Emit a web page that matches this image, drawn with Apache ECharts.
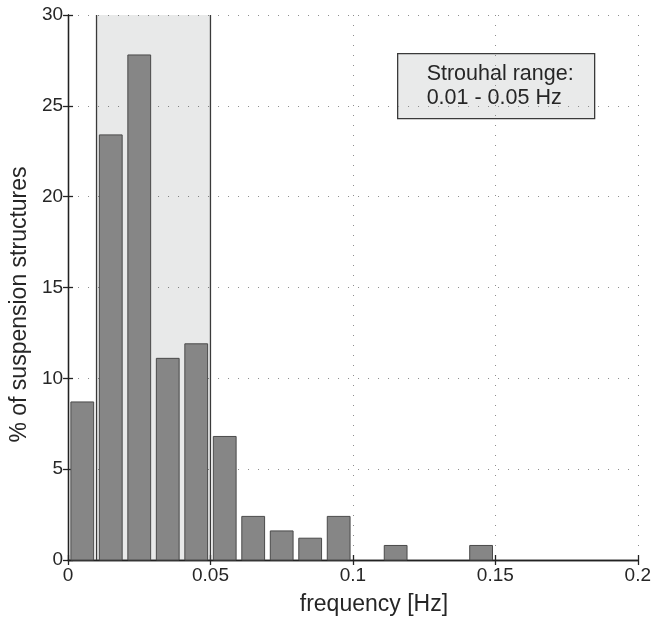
<!DOCTYPE html>
<html>
<head>
<meta charset="utf-8">
<script src="https://cdn.jsdelivr.net/npm/echarts@6/dist/echarts.min.js"></script>
<style>
html,body{margin:0;padding:0;background:#fff;}
#chart{width:654px;height:621px;}
</style>
</head>
<body>
<div id="chart"></div>
<script>
// ---- data ----
const binCenters = [0.005, 0.015, 0.025, 0.035, 0.045, 0.055, 0.065, 0.075, 0.085, 0.095, 0.105, 0.115, 0.125, 0.135, 0.145];
const percentValues = [8.7, 23.4, 27.8, 11.1, 11.9, 6.8, 2.4, 1.6, 1.2, 2.4, 0, 0.8, 0, 0, 0.8];
const binWidth = 0.01;
const strouhalRange = [0.01, 0.05];
const xTicks = [0, 0.05, 0.1, 0.15, 0.2];
const yTicks = [0, 5, 10, 15, 20, 25, 30];
const boxLines = ['Strouhal range:', '0.01 - 0.05 Hz'];
const xName = 'frequency [Hz]';
const yName = '% of suspension structures';

const FONT = '"Liberation Sans", Arial, Helvetica, sans-serif';
const chart = echarts.init(document.getElementById('chart'), null, {renderer: 'canvas'});

const barData = binCenters.map((c, i) => [c, percentValues[i]]);
const gridLine = {show: true, lineStyle: {color: '#8c8c8c', width: 1, type: [1, 9]}};
const axisLineStyle = {color: '#222', width: 1.3};

const option = {
  animation: false,
  backgroundColor: '#fff',
  grid: {left: 68, right: 11, top: 15, bottom: 59, containLabel: false},
  xAxis: [{
    type: 'value', position: 'bottom',
    min: xTicks[0], max: xTicks[xTicks.length - 1], interval: xTicks[1] - xTicks[0],
    name: xName, nameLocation: 'middle', nameGap: 33,
    nameTextStyle: {fontFamily: FONT, fontSize: 23, color: '#262626', padding: [0, 0, 0, 42]},
    axisLine: {show: true, lineStyle: axisLineStyle},
    axisTick: {show: true, inside: true, length: 5, lineStyle: axisLineStyle},
    axisLabel: {fontFamily: FONT, fontSize: 19, color: '#262626', margin: 6},
    splitLine: gridLine
  }, {
    type: 'value', position: 'top',
    min: xTicks[0], max: xTicks[xTicks.length - 1], interval: xTicks[1] - xTicks[0],
    axisLine: {show: true, lineStyle: axisLineStyle},
    axisTick: {show: true, inside: true, length: 5, lineStyle: axisLineStyle},
    axisLabel: {show: false}, splitLine: {show: false}
  }],
  yAxis: [{
    type: 'value', position: 'left',
    min: yTicks[0], max: yTicks[yTicks.length - 1], interval: yTicks[1] - yTicks[0],
    name: yName, nameLocation: 'middle', nameGap: 24, nameRotate: 90,
    nameTextStyle: {fontFamily: FONT, fontSize: 23, color: '#262626', padding: [0, 34, 0, 0]},
    axisLine: {show: true, lineStyle: axisLineStyle},
    axisTick: {show: true, inside: true, length: 5, lineStyle: axisLineStyle},
    axisLabel: {fontFamily: FONT, fontSize: 19, color: '#262626', margin: 5},
    splitLine: gridLine
  }, {
    type: 'value', position: 'right',
    min: yTicks[0], max: yTicks[yTicks.length - 1], interval: yTicks[1] - yTicks[0],
    axisLine: {show: true, lineStyle: axisLineStyle},
    axisTick: {show: true, inside: true, length: 5, lineStyle: axisLineStyle},
    axisLabel: {show: false}, splitLine: {show: false}
  }],
  series: [{
    type: 'custom', name: 'range', z: 1, silent: true,
    data: [[strouhalRange[0], strouhalRange[1]]],
    renderItem: function (params, api) {
      const yMax = yTicks[yTicks.length - 1];
      const p0 = api.coord([api.value(0), yMax]);
      const p1 = api.coord([api.value(1), 0]);
      return {
        type: 'group',
        children: [
          {type: 'rect', shape: {x: p0[0], y: p0[1], width: p1[0] - p0[0], height: p1[1] - p0[1]},
           style: {fill: 'rgba(0,10,10,0.09)'}},
          {type: 'line', shape: {x1: p0[0], y1: p0[1], x2: p0[0], y2: p1[1]}, style: {stroke: '#3a3a3a', lineWidth: 1.3}},
          {type: 'line', shape: {x1: p1[0], y1: p0[1], x2: p1[0], y2: p1[1]}, style: {stroke: '#3a3a3a', lineWidth: 1.3}}
        ]
      };
    }
  }, {
    type: 'custom', name: 'percent', z: 3, silent: true,
    data: barData,
    renderItem: function (params, api) {
      const x = api.value(0), y = api.value(1);
      if (!y) return null;
      const half = binWidth * 0.4;
      const p0 = api.coord([x - half, y]);
      const p1 = api.coord([x + half, 0]);
      return {type: 'rect',
        shape: {x: p0[0], y: p0[1], width: p1[0] - p0[0], height: p1[1] - p0[1]},
        style: {fill: '#868686', stroke: '#4a4a4a', lineWidth: 1}};
    }
  }],
  graphic: [{
    type: 'group', left: 397, top: 53, z: 10,
    children: [
      {type: 'rect', shape: {x: 0, y: 0, width: 197, height: 65},
       style: {fill: '#e9eaea', stroke: '#3a3a3a', lineWidth: 1.3}},
      {type: 'text', x: 29, y: 8,
       style: {text: boxLines.join('\n'), font: '21.5px ' + FONT, fill: '#262626', lineHeight: 24.5, verticalAlign: 'top', align: 'left'}}
    ]
  }]
};
chart.setOption(option);
</script>
</body>
</html>
